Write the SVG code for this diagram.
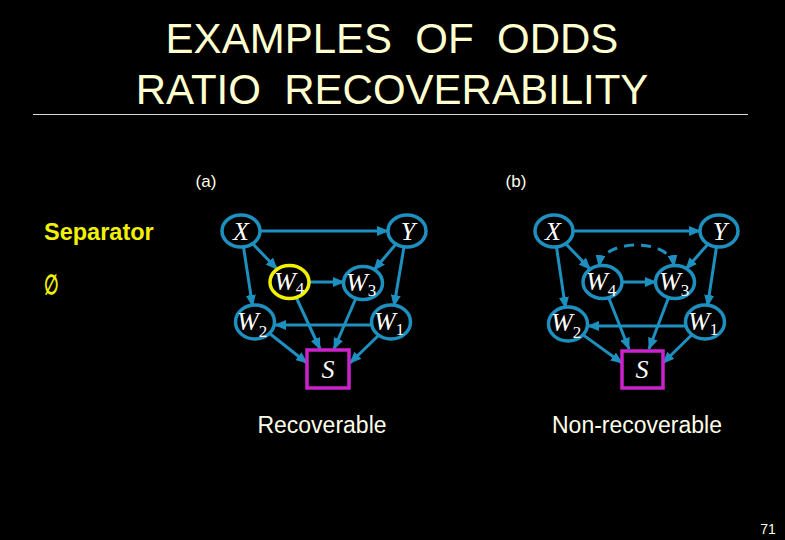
<svg xmlns="http://www.w3.org/2000/svg" width="785" height="540" viewBox="0 0 785 540">
<style>
.title{font-family:"Liberation Sans",Arial,sans-serif;font-size:42px;fill:#FFFFD0;white-space:pre}
.lbl{font-family:"Liberation Sans",Arial,sans-serif;fill:#FFFFE8}
.sep{font-family:"Liberation Sans",Arial,sans-serif;font-weight:bold;fill:#F2F200}
.node{fill:none;stroke:#1E90C0;stroke-width:3.5}
.sel{fill:none;stroke:#F0F000;stroke-width:3.5}
.box{fill:#000;stroke:#CC22CC;stroke-width:3.5}
.var{font-family:"Liberation Serif","Times New Roman",serif;font-style:italic;font-size:26px;fill:#FFFFFF}
.sub{font-size:17px;font-style:normal}
.edge{stroke:#1E90C0;stroke-width:3;fill:none;marker-end:url(#ah)}
.dash{stroke:#1E90C0;stroke-width:3;fill:none;stroke-dasharray:10 7;marker-end:url(#ah);marker-start:url(#ah)}
</style>
<defs>
<marker id="ah" markerUnits="userSpaceOnUse" markerWidth="12" markerHeight="10" refX="11" refY="5" orient="auto-start-reverse">
<path d="M0,0 L12,5 L0,10 z" fill="#1E90C0"/>
</marker>
</defs>
<rect width="785" height="540" fill="#000"/>
<text class="title" x="392" y="53" text-anchor="middle">EXAMPLES  OF  ODDS</text>
<text class="title" x="392" y="104" text-anchor="middle">RATIO  RECOVERABILITY</text>
<line x1="33" y1="114.5" x2="748" y2="114.5" stroke="#D8D8D8" stroke-width="1"/>
<text class="lbl" x="206" y="187" font-size="17" text-anchor="middle">(a)</text>
<text class="lbl" x="516" y="187" font-size="17" text-anchor="middle">(b)</text>
<text class="sep" x="44" y="240" font-size="23.5">Separator</text>
<text class="sep" transform="translate(44,294) scale(0.62,1)" font-size="27" font-weight="normal">∅</text>
<text class="lbl" x="322" y="433" font-size="23" text-anchor="middle">Recoverable</text>
<text class="lbl" x="637" y="433" font-size="23" text-anchor="middle">Non-recoverable</text>
<text class="lbl" x="768" y="534" font-size="14" text-anchor="middle">71</text>

<g id="connectors">
<line class="edge" x1="260" y1="231" x2="388" y2="231"/>
<line class="edge" x1="253" y1="244" x2="277" y2="269"/>
<line class="edge" x1="243.5" y1="247" x2="252.5" y2="306"/>
<line class="edge" x1="396" y1="244" x2="374" y2="270"/>
<line class="edge" x1="404" y1="247" x2="394" y2="306"/>
<line class="edge" x1="309" y1="282" x2="344" y2="282"/>
<line class="edge" x1="296" y1="297" x2="320" y2="349"/>
<line class="edge" x1="356" y1="298" x2="334" y2="349"/>
<line class="edge" x1="269" y1="333" x2="307" y2="363"/>
<line class="edge" x1="379" y1="335" x2="350" y2="363"/>
<line class="edge" x1="372" y1="325" x2="275" y2="325"/>

<line class="edge" x1="573" y1="231" x2="700" y2="231"/>
<line class="edge" x1="566" y1="244" x2="590" y2="269"/>
<line class="edge" x1="556.5" y1="247" x2="565.5" y2="308"/>
<line class="edge" x1="708" y1="244" x2="686" y2="269"/>
<line class="edge" x1="716.5" y1="247" x2="707.5" y2="306"/>
<line class="edge" x1="621" y1="282" x2="656" y2="282"/>
<line class="edge" x1="608.6" y1="297.5" x2="629" y2="349"/>
<line class="edge" x1="668.6" y1="297.5" x2="649" y2="349"/>
<line class="edge" x1="582.4" y1="334.4" x2="622" y2="363"/>
<line class="edge" x1="692.6" y1="334" x2="663" y2="363"/>
<line class="edge" x1="686" y1="326" x2="588" y2="326"/>
<path class="dash" d="M599,266 C603,238 670,238 674,266"/>
</g>

<g id="a-X"><ellipse class="node" cx="241" cy="231" rx="19" ry="16"/><text class="var" x="241" y="240" text-anchor="middle">X</text></g>
<g id="a-Y"><ellipse class="node" cx="407" cy="231" rx="19" ry="16"/><text class="var" x="408" y="240" text-anchor="middle">Y</text></g>
<g id="a-W4"><ellipse class="sel" cx="289.5" cy="282" rx="19.5" ry="16.5"/><text class="var" x="274" y="290">W<tspan class="sub" dy="4">4</tspan></text></g>
<g id="a-W3"><ellipse class="node" cx="363" cy="283" rx="19.5" ry="16.5"/><text class="var" x="346" y="291">W<tspan class="sub" dy="5">3</tspan></text></g>
<g id="a-W2"><ellipse class="node" cx="255" cy="322" rx="19.5" ry="17"/><text class="var" x="237" y="330">W<tspan class="sub" dy="7">2</tspan></text></g>
<g id="a-W1"><ellipse class="node" cx="391" cy="322" rx="19.5" ry="17"/><text class="var" x="374" y="330">W<tspan class="sub" dy="5">1</tspan></text></g>
<g id="a-S"><rect class="box" x="307" y="350" width="42" height="38"/><text class="var" x="328" y="378" text-anchor="middle">S</text></g>

<g id="b-X"><ellipse class="node" cx="554" cy="231" rx="19" ry="16"/><text class="var" x="553" y="240" text-anchor="middle">X</text></g>
<g id="b-Y"><ellipse class="node" cx="719" cy="231" rx="19" ry="16"/><text class="var" x="720" y="240" text-anchor="middle">Y</text></g>
<g id="b-W4"><ellipse class="node" cx="602.5" cy="282" rx="19.5" ry="16.5"/><text class="var" x="586" y="290">W<tspan class="sub" dy="6">4</tspan></text></g>
<g id="b-W3"><ellipse class="node" cx="675" cy="282" rx="19.5" ry="16.5"/><text class="var" x="659" y="290">W<tspan class="sub" dy="6">3</tspan></text></g>
<g id="b-W2"><ellipse class="node" cx="568" cy="324" rx="19.5" ry="17"/><text class="var" x="551" y="331">W<tspan class="sub" dy="7">2</tspan></text></g>
<g id="b-W1"><ellipse class="node" cx="705" cy="322" rx="19.5" ry="17"/><text class="var" x="688" y="330">W<tspan class="sub" dy="5">1</tspan></text></g>
<g id="b-S"><rect class="box" x="622" y="351" width="41" height="37"/><text class="var" x="642" y="378" text-anchor="middle">S</text></g>
</svg>
